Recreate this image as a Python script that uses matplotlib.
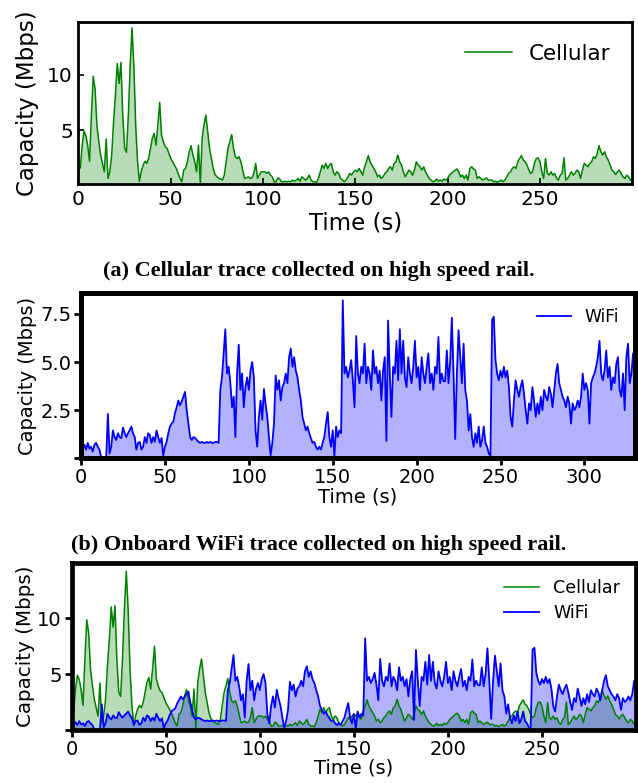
import numpy as np
import matplotlib
matplotlib.use("Agg")
import matplotlib.pyplot as plt

# ---- data (1 s resolution) ----
cellular = [
    1.4, 1.6, 3.6, 4.9, 4.5, 3.6, 2.2, 6.3, 9.85, 8.7,
    5.4, 4.0, 2.75, 2.0, 1.25, 4.2, 0.65, 1.25, 2.75, 5.7,
    8.1, 11.0, 9.2, 11.1, 6.3, 3.4, 3.0, 6.3, 10.8, 14.2,
    10.8, 5.4, 2.2, 0.4, 1.25, 1.85, 2.2, 2.0, 2.45, 3.35,
    4.25, 4.7, 3.65, 5.45, 7.5, 4.55, 3.95, 3.5, 3.35, 2.9,
    2.45, 2.15, 1.85, 1.55, 1.1, 0.65, 0.35, 1.4, 1.55, 2.15,
    3.05, 3.6, 2.75, 2.15, 1.25, 3.65, 0.2, 4.25, 5.45, 6.35,
    4.85, 3.35, 2.45, 1.55, 1.0, 0.8, 0.65, 0.6, 0.5, 0.95,
    2.15, 3.35, 3.95, 4.6, 3.35, 2.6, 2.45, 2.6, 2.15, 1.4,
    0.65, 0.7, 0.8, 0.65, 0.7, 1.1, 2.0, 0.65, 0.95, 1.25,
    1.25, 1.25, 1.1, 1.25, 0.95, 0.8, 0.35, 0.35, 0.7, 0.6,
    0.35, 0.35, 0.4, 0.35, 0.4, 0.35, 0.5, 0.4, 0.5, 0.65,
    0.4, 0.8, 0.65, 0.5, 0.65, 0.95, 0.5, 0.35, 0.35, 0.3,
    0.65, 1.25, 1.85, 1.55, 2.0, 1.55, 1.85, 2.0, 1.25, 0.95,
    1.25, 1.1, 0.65, 0.5, 0.35, 0.5, 0.8, 1.1, 0.95, 1.25,
    1.4, 1.25, 1.55, 1.25, 0.95, 1.7, 2.15, 2.7, 2.15, 1.85,
    1.55, 1.25, 0.8, 0.95, 0.65, 0.8, 1.1, 1.25, 1.55, 1.7,
    1.4, 2.0, 2.15, 2.75, 2.15, 1.85, 1.25, 0.8, 1.1, 1.4,
    1.25, 0.95, 1.4, 2.15, 1.85, 1.7, 1.4, 1.7, 1.25, 0.95,
    0.65, 0.5, 0.35, 0.4, 0.6, 0.4, 0.5, 0.4, 0.6, 0.5,
    0.65, 0.95, 1.1, 1.25, 1.4, 1.5, 1.25, 0.8, 0.95, 0.65,
    0.95, 0.5, 1.55, 1.7, 1.5, 1.4, 0.65, 0.8, 0.65, 0.5,
    0.6, 0.7, 0.5, 0.5, 0.5, 0.35, 0.4, 0.3, 0.4, 0.5,
    0.35, 0.5, 0.8, 1.1, 1.25, 1.55, 1.7, 1.55, 2.15, 2.45,
    2.7, 2.3, 2.15, 1.85, 1.4, 1.1, 1.25, 2.0, 2.45, 2.5,
    2.15, 1.25, 0.65, 2.45, 1.1, 0.95, 1.25, 0.95, 1.1, 0.65,
    0.5, 0.95, 1.1, 2.5, 0.5, 0.65, 0.95, 1.25, 0.95, 1.1,
    1.4, 1.25, 0.65, 1.4, 2.0, 1.85, 1.7, 2.0, 2.15, 2.6,
    2.45, 2.9, 3.6, 3.05, 2.75, 3.05, 2.6, 2.3, 1.85, 1.4,
    1.25, 1.0, 1.25, 1.4, 1.1, 0.8, 0.65, 0.95, 0.8, 0.5,
    0.65,
]

wifi = [
    0.6, 0.5, 0.7, 0.45, 0.8, 0.5, 0.6, 0.35, 0.7, 0.8,
    0.6, 0.45, 0.05, 0.0, 0.0, 0.0, 2.3, 0.25, 0.6, 1.45,
    1.1, 0.95, 1.3, 1.1, 1.05, 1.6, 1.3, 1.1, 1.3, 1.45,
    1.65, 1.3, 1.1, 0.45, 0.8, 0.85, 0.45, 0.6, 1.1, 0.8,
    1.3, 1.2, 0.8, 1.1, 0.85, 1.45, 1.1, 0.8, 1.05, 0.15,
    0.6, 0.85, 1.3, 1.65, 1.8, 1.9, 2.35, 2.65, 3.0, 2.75,
    2.95, 3.2, 3.45, 2.5, 1.8, 1.1, 0.95, 1.1, 1.05, 0.95,
    0.85, 0.8, 0.85, 0.8, 0.8, 0.85, 0.8, 0.85, 0.8, 0.8,
    0.85, 0.85, 0.8, 3.55, 4.2, 5.45, 6.7, 4.4, 4.75, 3.9,
    2.65, 3.2, 1.1, 4.4, 5.9, 3.55, 4.4, 2.65, 3.7, 4.2,
    3.55, 4.55, 5.0, 4.2, 1.45, 0.6, 2.15, 3.0, 2.0, 3.6,
    2.8, 2.15, 1.1, 0.15, 0.8, 1.8, 4.3, 3.55, 4.05, 3.0,
    3.7, 3.9, 4.4, 3.9, 5.25, 5.7, 4.75, 5.25, 4.55, 4.2,
    3.55, 3.0, 2.15, 1.8, 1.45, 1.65, 1.3, 1.05, 0.8, 0.85,
    0.6, 0.45, 0.6, 0.45, 0.8, 1.1, 1.8, 2.4, 1.1, 0.6,
    1.45, 0.1, 1.65, 1.1, 1.45, 1.3, 8.2, 4.4, 4.75, 4.2,
    4.55, 5.1, 4.05, 2.65, 6.35, 4.4, 3.9, 4.75, 4.4, 5.95,
    3.9, 4.75, 4.4, 3.55, 5.6, 4.4, 4.75, 3.9, 4.55, 3.0,
    4.55, 5.25, 0.9, 7.15, 4.4, 2.15, 4.75, 4.4, 6.1, 4.05,
    6.7, 4.4, 6.1, 4.2, 3.7, 5.25, 4.4, 3.9, 4.75, 6.1,
    4.2, 4.75, 3.55, 5.25, 4.4, 3.9, 4.75, 5.45, 3.9, 4.4,
    3.55, 4.75, 4.4, 6.3, 3.9, 4.4, 4.0, 4.0, 5.6, 3.9,
    5.0, 7.3, 4.4, 1.0, 4.4, 6.65, 5.25, 3.9, 5.95, 3.55,
    3.0, 1.45, 2.3, 1.1, 0.6, 1.3, 0.8, 1.65, 0.6, 0.95,
    1.65, 0.8, 0.6, 0.25, 0.15, 7.2, 7.35, 5.1, 4.4, 4.05,
    4.55, 4.2, 4.75, 4.2, 4.55, 3.7, 2.15, 1.65, 3.0, 4.05,
    3.55, 3.2, 3.7, 4.05, 3.35, 2.5, 1.8, 2.85, 2.5, 3.7,
    3.0, 2.15, 2.85, 2.3, 3.2, 2.5, 3.55, 3.2, 3.0, 3.7,
    3.35, 2.65, 3.55, 4.4, 4.9, 3.9, 3.55, 3.2, 3.0, 2.65,
    3.2, 2.85, 1.8, 2.85, 2.5, 2.65, 3.0, 2.65, 3.2, 4.4,
    3.55, 3.9, 3.55, 1.8, 3.9, 4.2, 4.4, 4.75, 5.25, 6.1,
    4.4, 4.05, 4.55, 5.6, 4.2, 4.75, 3.55, 4.2, 3.9, 4.9,
    5.25, 3.55, 3.2, 4.4, 2.5, 5.25, 5.95, 3.9, 4.4, 5.45,
    3.55,
]

cell_xticks = [0, 50, 100, 150, 200, 250]
wifi_xticks = [0, 50, 100, 150, 200, 250, 300]
cell_yticks = [5, 10]
wifi_yticks = [0, 2.5, 5.0, 7.5]
wifi_yticklabels = ["", "2.5", "5.0", "7.5"]
both_yticks = [0, 5, 10]
both_yticklabels = ["", "5", "10"]

captions = ["(a) Cellular trace collected on high speed rail.",
            "(b) Onboard WiFi trace collected on high speed rail."]

t_cell = np.arange(len(cellular))
t_wifi = np.arange(len(wifi))
cell_arr = np.array(cellular)
wifi_arr = np.array(wifi)

GREEN = "green"
BLUE = "blue"

fig = plt.figure(figsize=(6.38, 7.83), dpi=100)

# ---------- panel (a) ----------
ax1 = fig.add_axes([0.1230, 0.7650, 0.8680, 0.2065])
ax1.plot(t_cell, cell_arr, color=GREEN, lw=1.1, label="Cellular")
ax1.fill_between(t_cell, 0, cell_arr, color=GREEN, alpha=0.28, lw=0)
ax1.set_xlim(0, 300)
ax1.set_ylim(0.15, 14.7)
ax1.set_xticks(cell_xticks)
ax1.set_yticks(cell_yticks)
ax1.tick_params(direction="in", length=4, width=1.2, labelsize=14.5, pad=4)
for s in ax1.spines.values():
    s.set_linewidth(2.0)
ax1.set_xlabel("Time (s)", fontsize=16.5, labelpad=2)
ax1.set_ylabel("Capacity (Mbps)", fontsize=16.5, labelpad=6)
ax1.legend(loc="upper right", frameon=False, fontsize=15.5, handlelength=2.2,
           borderaxespad=0.6)

fig.text(0.5, 1 - 271 / 783, captions[0], ha="center", va="center",
         fontsize=16, fontweight="bold", family="Liberation Serif")

# ---------- panel (b) ----------
ax2 = fig.add_axes([0.1270, 0.4147, 0.8679, 0.2115])
ax2.plot(t_wifi, wifi_arr, color=BLUE, lw=1.3, label="WiFi")
ax2.fill_between(t_wifi, 0, wifi_arr, color=BLUE, alpha=0.3, lw=0)
ax2.set_xlim(0, 330)
ax2.set_ylim(0, 8.6)
ax2.set_xticks(wifi_xticks)
ax2.set_yticks(wifi_yticks)
ax2.set_yticklabels(wifi_yticklabels)
ax2.tick_params(direction="out", length=5, width=2, labelsize=14, pad=2)
for s in ax2.spines.values():
    s.set_linewidth(3.6)
ax2.set_xlabel("Time (s)", fontsize=14, labelpad=0)
ax2.set_ylabel("Capacity (Mbps)", fontsize=14, labelpad=2)
ax2.legend(loc="upper right", frameon=False, fontsize=12.3, handlelength=2.0,
           borderaxespad=0.5)

fig.text(0.5, 1 - 545 / 783, captions[1], ha="center", va="center",
         fontsize=16, fontweight="bold", family="Liberation Serif")

# ---------- panel (c) ----------
ax3 = fig.add_axes([0.1124, 0.0677, 0.8845, 0.2129])
ax3.plot(t_cell, cell_arr, color=GREEN, lw=1.1, label="Cellular")
ax3.fill_between(t_cell, 0, cell_arr, color=GREEN, alpha=0.28, lw=0)
ax3.plot(t_wifi, wifi_arr, color=BLUE, lw=1.3, label="WiFi")
ax3.fill_between(t_wifi, 0, wifi_arr, color=BLUE, alpha=0.3, lw=0)
ax3.set_xlim(0, 300)
ax3.set_ylim(0, 14.9)
ax3.set_xticks(cell_xticks)
ax3.set_yticks(both_yticks)
ax3.set_yticklabels(both_yticklabels)
ax3.tick_params(direction="out", length=5, width=2, labelsize=14, pad=2)
for s in ax3.spines.values():
    s.set_linewidth(3.4)
ax3.set_xlabel("Time (s)", fontsize=14, labelpad=0)
ax3.set_ylabel("Capacity (Mbps)", fontsize=14.3, labelpad=2)
ax3.legend(loc="upper right", frameon=False, fontsize=12.6, handlelength=2.0,
           borderaxespad=0.5, labelspacing=0.4)

fig.savefig("out.png", dpi=100)
